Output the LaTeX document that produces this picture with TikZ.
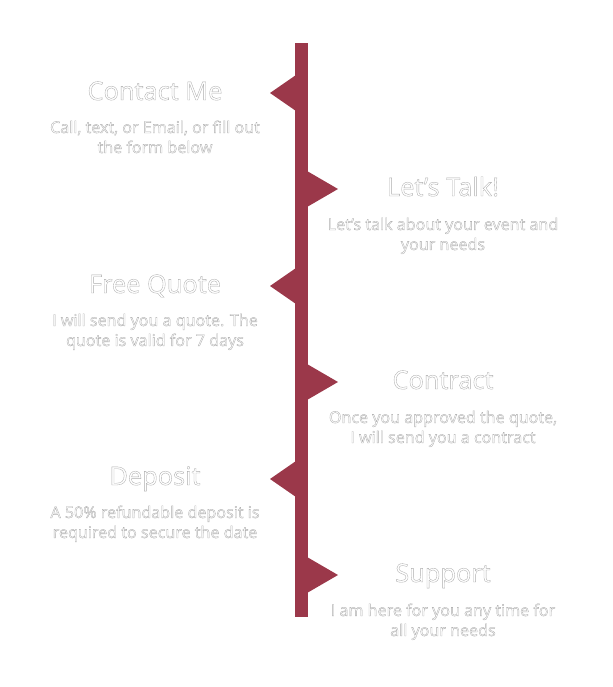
\documentclass[tikz,border=0pt]{standalone}
\usepackage{fontspec}
\setmainfont{Open Sans}
\definecolor{spine}{RGB}{155,56,74}
\newcommand\outl[1]{\special{pdf:literal direct 2 Tr 0.35 w 0.68 G}#1\special{pdf:literal direct 0 Tr}}
\tikzset{
  ttl/.style={text=white,font=\fontsize{25.5}{28}\selectfont,inner sep=0pt,anchor=base},
  sub/.style={text=white,font=\fontsize{16.2}{20}\selectfont,inner sep=0pt,anchor=base}
}
\begin{document}
\begin{tikzpicture}[x=1bp,y=-1bp]
\useasboundingbox (0,0) rectangle (613,687);
\fill[spine] (295,43) coordinate (top) rectangle (308,617) coordinate (bot);
\foreach \y in {93,286,479}{
  \fill[spine] (296,\y-18) -- (270,\y) -- (296,\y+18) -- cycle;
}
\foreach \y in {189,382,575}{
  \fill[spine] (307,\y-18) -- (338,\y) -- (307,\y+18) -- cycle;
}
\node[ttl] (a) at (155,100) {\outl{Contact Me}};
\node[sub] (a1) at (155,133) {\outl{Call, text, or Email, or fill out}};
\node[sub] (a2) at (155,153) {\outl{the form below}};
\node[ttl] (b) at (443,196) {\outl{Let’s Talk!}};
\node[sub] (b1) at (443,230) {\outl{Let’s talk about your event and}};
\node[sub] (b2) at (443,250) {\outl{your needs}};
\node[ttl] (c) at (155,293) {\outl{Free Quote}};
\node[sub] (c1) at (155,326) {\outl{I will send you a quote. The}};
\node[sub] (c2) at (155,346) {\outl{quote is valid for 7 days}};
\node[ttl] (d) at (443,389) {\outl{Contract}};
\node[sub] (d1) at (443,423) {\outl{Once you approved the quote,}};
\node[sub] (d2) at (443,443) {\outl{I will send you a contract}};
\node[ttl] (e) at (155,485) {\outl{Deposit}};
\node[sub] (e1) at (155,518) {\outl{A 50\% refundable deposit is}};
\node[sub] (e2) at (155,538) {\outl{required to secure the date}};
\node[ttl] (f) at (443,582) {\outl{Support}};
\node[sub] (f1) at (443,616) {\outl{I am here for you any time for}};
\node[sub] (f2) at (443,636) {\outl{all your needs}};
\end{tikzpicture}
\end{document}
